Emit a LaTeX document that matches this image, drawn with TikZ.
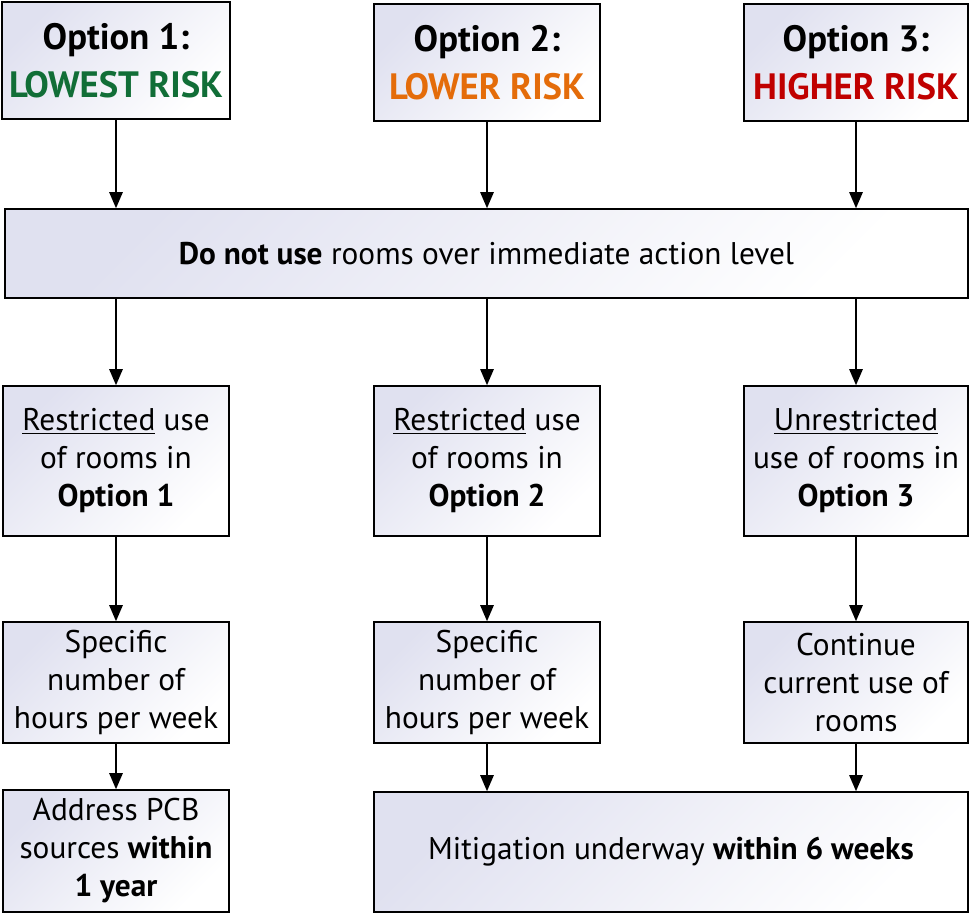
\documentclass[tikz,border=0pt]{standalone}
\usepackage{fontspec}
\setmainfont{PT Sans}
\usetikzlibrary{arrows.meta}

\definecolor{lavbox}{RGB}{224,225,240}
\definecolor{riskgreen}{RGB}{17,110,55}
\definecolor{riskorange}{RGB}{228,108,10}
\definecolor{riskred}{RGB}{192,0,0}

\tikzset{every picture/.style={line width=0.75pt}}
\tikzset{
  optbox/.style={draw, line width=1.2pt, top color=lavbox, bottom color=white, shading angle=45,
    align=center, inner sep=0pt, font=\fontsize{23.5}{28.5}\selectfont},
  headbox/.style={optbox, font=\fontsize{27.5}{36}\selectfont\bfseries},
  flow/.style={-{Triangle[length=12pt,width=10pt]}, line width=1.2pt}
}

\begin{document}
\begin{tikzpicture}[x=0.75pt,y=0.75pt,yscale=-1,xscale=1]
\useasboundingbox (0,0) rectangle (969,914);

%Shape: Rectangle [id:opt1] 
\node [headbox, minimum width=228*0.75pt, minimum height=117*0.75pt] (opt1) at (116,60.5) {Option 1:\\\textcolor{riskgreen}{LOWEST RISK}};
%Shape: Rectangle [id:opt2] 
\node [headbox, minimum width=226*0.75pt, minimum height=117*0.75pt] (opt2) at (487,62.5) {Option 2:\\\textcolor{riskorange}{LOWER RISK}};
%Shape: Rectangle [id:opt3] 
\node [headbox, minimum width=224*0.75pt, minimum height=117*0.75pt] (opt3) at (856,62.5) {Option 3:\\\textcolor{riskred}{HIGHER RISK}};

%Shape: Rectangle [id:donot] 
\node [optbox, minimum width=963*0.75pt, minimum height=89*0.75pt] (donot) at (486.5,253.5) {\textbf{Do not use} rooms over immediate action level};

%Shape: Rectangle [id:use1] 
\node [optbox, minimum width=226*0.75pt, minimum height=150*0.75pt] (use1) at (116,461) {\underline{Restricted} use\\of rooms in\\\textbf{Option 1}};
%Shape: Rectangle [id:use2] 
\node [optbox, minimum width=226*0.75pt, minimum height=150*0.75pt] (use2) at (487,461) {\underline{Restricted} use\\of rooms in\\\textbf{Option 2}};
%Shape: Rectangle [id:use3] 
\node [optbox, minimum width=224*0.75pt, minimum height=150*0.75pt] (use3) at (856,461) {\underline{Unrestricted}\\use of rooms in\\\textbf{Option 3}};

%Shape: Rectangle [id:hours1] 
\node [optbox, minimum width=226*0.75pt, minimum height=121*0.75pt] (hours1) at (116,682.5) {Specific\\number of\\hours per week};
%Shape: Rectangle [id:hours2] 
\node [optbox, minimum width=226*0.75pt, minimum height=121*0.75pt] (hours2) at (487,682.5) {Specific\\number of\\hours per week};
%Shape: Rectangle [id:cont3] 
\node [optbox, minimum width=224*0.75pt, minimum height=121*0.75pt] (cont3) at (856,682.5) {Continue\\current use of\\rooms};

%Shape: Rectangle [id:pcb] 
\node [optbox, minimum width=226*0.75pt, minimum height=122*0.75pt] (pcb) at (116,851) {Address PCB\\sources \textbf{within}\\\textbf{1 year}};
%Shape: Rectangle [id:mitig] 
\node [optbox, minimum width=594*0.75pt, minimum height=120*0.75pt] (mitig) at (671,852) {Mitigation underway \textbf{within 6 weeks}};

% Arrows
\draw [flow] (opt1.south) -- (opt1.south |- donot.north);
\draw [flow] (opt2.south) -- (opt2.south |- donot.north);
\draw [flow] (opt3.south) -- (opt3.south |- donot.north);
\draw [flow] (use1.north |- donot.south) -- (use1.north);
\draw [flow] (use2.north |- donot.south) -- (use2.north);
\draw [flow] (use3.north |- donot.south) -- (use3.north);
\draw [flow] (use1) -- (hours1);
\draw [flow] (use2) -- (hours2);
\draw [flow] (use3) -- (cont3);
\draw [flow] (hours1) -- (pcb);
\draw [flow] (hours2.south) -- (hours2.south |- mitig.north);
\draw [flow] (cont3.south) -- (cont3.south |- mitig.north);
\end{tikzpicture}
\end{document}
